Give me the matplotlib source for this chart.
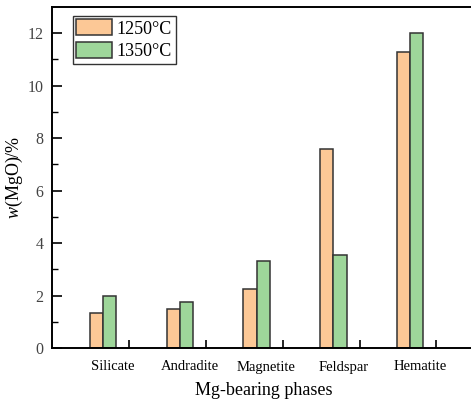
import matplotlib
matplotlib.use("Agg")
import matplotlib.pyplot as plt
import numpy as np

categories = ["Silicate", "Andradite", "Magnetite", "Feldspar", "Hematite"]
series_names = ["1250\u00b0C", "1350\u00b0C"]
v1250 = [1.33, 1.47, 2.24, 7.57, 11.30]
v1350 = [1.98, 1.77, 3.32, 3.53, 12.01]

plt.rcParams['font.family'] = ['Liberation Serif', 'DejaVu Serif']
plt.rcParams['mathtext.fontset'] = 'custom'
plt.rcParams['mathtext.rm'] = 'Liberation Serif'
plt.rcParams['mathtext.it'] = 'Liberation Serif:italic'

fig = plt.figure(figsize=(4.71, 4.00), dpi=100)
ax = fig.add_axes([52/471, 52/400, 1 - 52/471 + 0.01, 341/400])

x = np.arange(len(categories))
w = 0.17
ax.bar(x - w/2, v1250, w, color="#FCC896", edgecolor="#333333", linewidth=1.1, label=series_names[0])
ax.bar(x + w/2, v1350, w, color="#9ED69A", edgecolor="#333333", linewidth=1.1, label=series_names[1])

ax.set_xlim(-0.66, 4.85)
ax.set_ylim(0, 13)

ax.set_xticks(x + 0.34)
ax.set_xticklabels([])
ax.set_xticks(x + 0.13, minor=True)
ax.set_xticklabels(categories, minor=True, fontsize=10.5)
ax.tick_params(axis='x', which='major', direction='in', length=6, width=1.2)
ax.tick_params(axis='x', which='minor', length=0, pad=9)

ax.set_yticks(np.arange(0, 13, 2))
ax.set_yticks(np.arange(1, 13, 2), minor=True)
ax.tick_params(axis='y', which='major', direction='in', length=7, width=1.2, labelsize=11.5, labelcolor="#444444", pad=6)
ax.tick_params(axis='y', which='minor', direction='in', length=4, width=1.0)

for s in ['left', 'bottom', 'top']:
    ax.spines[s].set_linewidth(1.4)
ax.spines['right'].set_visible(False)

ax.set_xlabel("Mg-bearing phases", fontsize=13, labelpad=6)
ax.set_ylabel(r"$\mathit{w}$(MgO)/%", fontsize=13, labelpad=2)

leg = ax.legend(loc='upper left', bbox_to_anchor=(0.04, 0.985), fontsize=13,
                frameon=True, fancybox=False, edgecolor='black', handlelength=2.0,
                handleheight=1.0, borderpad=0.2, labelspacing=0.25, handletextpad=0.25,
                borderaxespad=0.2)
leg.get_frame().set_linewidth(1.0)

fig.savefig("out.png", dpi=100)
